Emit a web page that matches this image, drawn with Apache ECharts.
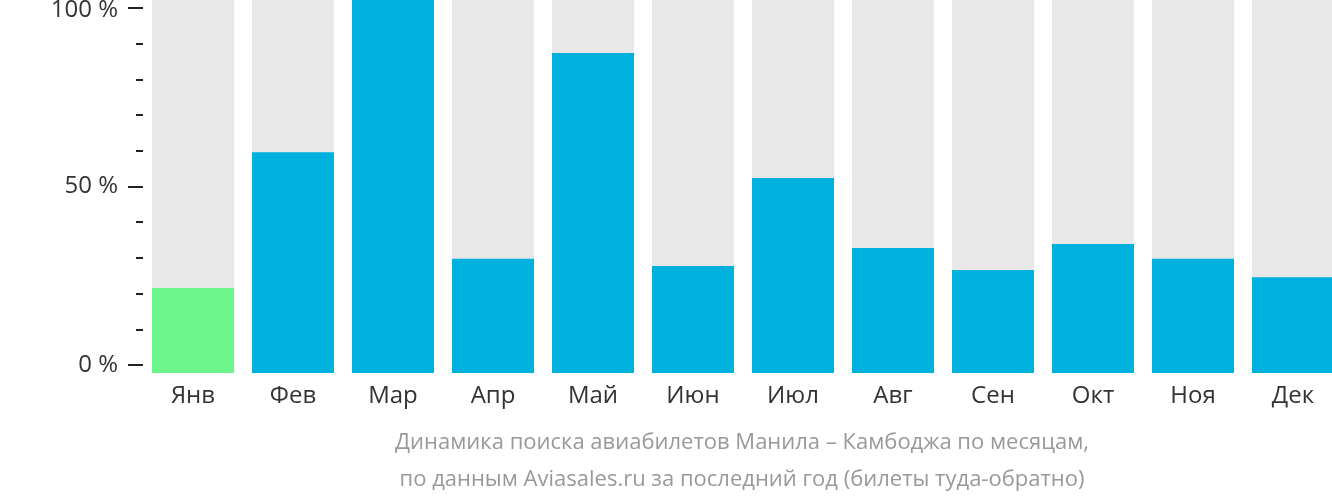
<!DOCTYPE html>
<html><head><meta charset="utf-8">
<script src="https://cdn.jsdelivr.net/npm/echarts@6/dist/echarts.min.js"></script>
<style>html,body{margin:0;padding:0;background:#fff}#c{width:1332px;height:502px}</style>
</head><body><div id="c"></div>
<script>
const months = ['Янв','Фев','Мар','Апр','Май','Июн','Июл','Авг','Сен','Окт','Ноя','Дек'];
const values = [22.8, 59.2, 100, 30.6, 85.8, 28.7, 52.3, 33.5, 27.6, 34.6, 30.6, 25.7];
const highlightIndex = 0;
const yTicks = [0, 50, 100];
const captionLines = ['Динамика поиска авиабилетов Манила – Камбоджа по месяцам,', 'по данным Aviasales.ru за последний год (билеты туда-обратно)'];

const chart = echarts.init(document.getElementById('c'));
const font = '"Open Sans", "Noto Sans", sans-serif';
chart.setOption({
  animation: false,
  grid: [
    {left: 143, top: 8, width: 1200, height: 357, outerBoundsMode: 'none', containLabel: false},
    {left: 143, top: 0, width: 1200, height: 373, outerBoundsMode: 'none', containLabel: false}
  ],
  xAxis: [
    {gridIndex: 0, type: 'category', data: months, show: false},
    {gridIndex: 1, type: 'category', data: months,
     axisLine: {show: false}, axisTick: {show: false},
     axisLabel: {color: '#333', fontSize: 24, fontFamily: font, margin: 11}}
  ],
  yAxis: [
    {gridIndex: 0, type: 'value', min: yTicks[0], max: yTicks[2], interval: 50,
     axisLine: {show: false},
     axisTick: {show: true, length: 15, lineStyle: {color: '#222', width: 2}},
     minorTick: {show: true, splitNumber: 5, length: 7, lineStyle: {color: '#222', width: 2}},
     splitLine: {show: false},
     axisLabel: {color: '#333', fontSize: 24, fontFamily: font, margin: 25,
       formatter: v => v === yTicks[2] ? '{top|' + v + ' %}' : v + ' %',
       rich: {top: {color: '#333', fontSize: 24, fontFamily: font, padding: [5, 0, 0, 0]}}}},
    {gridIndex: 1, type: 'value', min: 0, max: 100, show: false, splitLine: {show: false}}
  ],
  series: [{
    type: 'bar', xAxisIndex: 1, yAxisIndex: 1, barWidth: 82,
    showBackground: true, backgroundStyle: {color: '#e8e8e8'},
    data: values.map((v, i) => i === highlightIndex ? {value: v, itemStyle: {color: '#6cf58a'}} : v),
    itemStyle: {color: '#00b1dd'}
  }],
  graphic: captionLines.map((t, i) => ({
    type: 'text', x: 742, y: 443 + i * 37,
    style: {text: t, fill: '#999', fontSize: 22, fontFamily: font, textAlign: 'center', textVerticalAlign: 'middle'}
  }))
});
</script></body></html>
